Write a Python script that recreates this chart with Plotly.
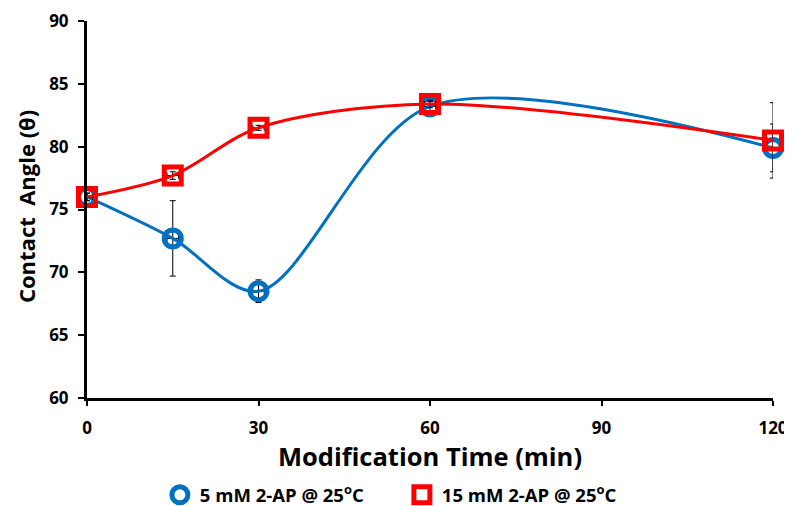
import plotly.graph_objects as go

time_min = [0, 15, 30, 60, 120]
blue_vals = [76.0, 72.7, 68.5, 83.2, 79.9]
blue_err = [0.3, 3.0, 0.9, 0.4, 1.9]
red_vals = [76.0, 77.7, 81.5, 83.4, 80.5]
red_err = [0.3, 0.3, 0.2, 0.3, 3.0]
x_err = [1, 1, 1, 1, 1]
blue_name = "5 mM 2-AP @ 25<sup>o</sup>C"
red_name = "15 mM 2-AP @ 25<sup>o</sup>C"
x_ticks = [0, 30, 60, 90, 120]
y_ticks = [60, 65, 70, 75, 80, 85, 90]
x_title = "Modification Time (min)"
y_title = "Contact  Angle (θ)"

BLUE = "#0070C0"
RED = "#FF0000"
FONT = "Open Sans"

blue_marker = dict(symbol="circle-open", size=17, color=BLUE, line=dict(width=5, color=BLUE))
red_marker = dict(symbol="square-open", size=17, color=RED, line=dict(width=5, color=RED))

fig = go.Figure()
fig.add_trace(go.Scatter(
    x=time_min, y=blue_vals, name=blue_name, mode="lines+markers", showlegend=False,
    line=dict(color=BLUE, width=3, shape="spline", smoothing=0.9),
    marker=blue_marker,
    error_y=dict(type="data", array=blue_err, color="black", thickness=1, width=3),
    error_x=dict(type="data", array=x_err, color="black", thickness=1, width=3),
    cliponaxis=False,
))
fig.add_trace(go.Scatter(
    x=time_min, y=red_vals, name=red_name, mode="lines+markers", showlegend=False,
    line=dict(color=RED, width=3, shape="spline", smoothing=0.9),
    marker=red_marker,
    error_y=dict(type="data", array=red_err, color="black", thickness=1, width=3),
    error_x=dict(type="data", array=x_err, color="black", thickness=1, width=3),
    cliponaxis=False,
))
# legend entries (marker only, like the reference legend)
fig.add_trace(go.Scatter(x=[None], y=[None], name=blue_name, mode="markers",
                         marker=blue_marker, showlegend=True))
fig.add_trace(go.Scatter(x=[None], y=[None], name=red_name, mode="markers",
                         marker=red_marker, showlegend=True))

# the page body adds an 8px offset, so the figure is 8px smaller than the window
fig.update_layout(
    width=784, height=498,
    margin=dict(l=79, r=19, t=13, b=108, autoexpand=False),
    paper_bgcolor="white", plot_bgcolor="white",
    font=dict(family=FONT, color="black"),
    showlegend=True,
    legend=dict(orientation="h", x=0.459, xanchor="center", y=-0.258, yanchor="middle",
                font=dict(size=18.5, family=FONT, weight="bold"), itemwidth=30,
                entrywidth=197,
                itemsizing="trace", tracegroupgap=0),
    xaxis=dict(range=[0, 120], tickvals=x_ticks, showgrid=False, zeroline=False,
               automargin=False,
               showline=True, linecolor="black", linewidth=3,
               ticks="outside", ticklen=5, tickwidth=2, tickcolor="black",
               ticklabelstandoff=8,
               tickfont=dict(size=17, family=FONT, weight="bold"),
               title=dict(text=x_title, standoff=10,
                          font=dict(size=25.5, family=FONT, weight="bold"))),
    yaxis=dict(range=[60, 90], tickvals=y_ticks, showgrid=False, zeroline=False,
               automargin=False,
               showline=True, linecolor="black", linewidth=3,
               ticks="outside", ticklen=6, tickwidth=2, tickcolor="black",
               ticklabelstandoff=6,
               tickfont=dict(size=17, family=FONT, weight="bold")),
    annotations=[dict(text=y_title, textangle=-90, xref="paper", yref="paper",
                      x=-0.089, y=0.509, xanchor="center", yanchor="middle",
                      showarrow=False, font=dict(size=22, family=FONT, weight="bold"))],
)

fig.write_html("out.html")
